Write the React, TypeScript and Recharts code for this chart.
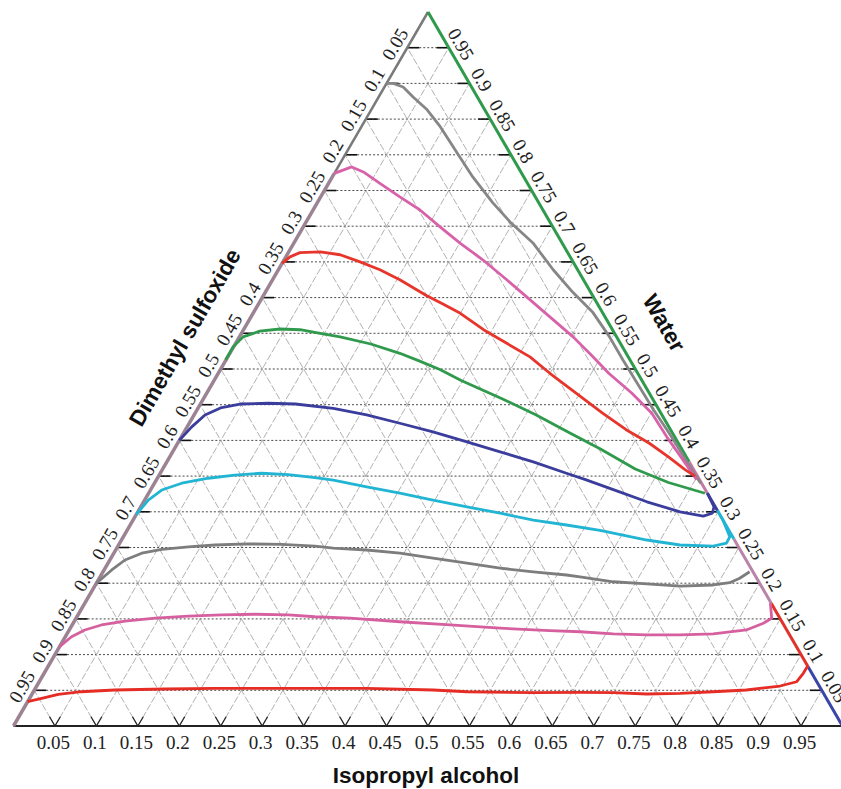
import React from "react";
import { ComposedChart, Line, Scatter, XAxis, YAxis, ReferenceLine } from "recharts";

// Grid / tick values (fractions along the axes)
const TICKS = [0.05, 0.1, 0.15, 0.2, 0.25, 0.3, 0.35, 0.4, 0.45, 0.5, 0.55, 0.6, 0.65, 0.7, 0.75, 0.8, 0.85, 0.9, 0.95];
const TICK_LABELS = ["0.05", "0.1", "0.15", "0.2", "0.25", "0.3", "0.35", "0.4", "0.45", "0.5", "0.55", "0.6", "0.65", "0.7", "0.75", "0.8", "0.85", "0.9", "0.95"];
const AXIS_TITLES = ["Dimethyl sulfoxide", "Water", "Isopropyl alcohol"];

// Curves: [horizontal fraction, height fraction]
const grayTop: [number, number][] = [[0.450,0.900],[0.458,0.900],[0.470,0.895],[0.482,0.881],[0.499,0.863],[0.515,0.839],[0.535,0.803],[0.554,0.769],[0.578,0.733],[0.599,0.706],[0.627,0.676],[0.651,0.639],[0.675,0.607],[0.699,0.579],[0.719,0.545],[0.735,0.513],[0.755,0.475],[0.772,0.443],[0.791,0.410],[0.806,0.382],[0.820,0.355],[0.829,0.340]];
const pinkTop: [number, number][] = [[0.387,0.774],[0.408,0.783],[0.422,0.776],[0.442,0.760],[0.466,0.741],[0.490,0.723],[0.5145,0.699],[0.539,0.676],[0.566,0.653],[0.595,0.625],[0.619,0.601],[0.647,0.573],[0.675,0.545],[0.699,0.517],[0.718,0.494],[0.746,0.466],[0.770,0.438],[0.788,0.405],[0.808,0.372],[0.824,0.345]];
const redTop: [number, number][] = [[0.324,0.648],[0.3335,0.657],[0.3456,0.663],[0.370,0.664],[0.394,0.660],[0.418,0.650],[0.442,0.639],[0.466,0.625],[0.498,0.603],[0.518,0.591],[0.539,0.578],[0.567,0.555],[0.595,0.536],[0.623,0.517],[0.647,0.494],[0.679,0.466],[0.711,0.438],[0.739,0.415],[0.767,0.396],[0.790,0.377],[0.810,0.359],[0.822,0.350]];
const greenMid: [number, number][] = [[0.256,0.513],[0.265,0.531],[0.277,0.545],[0.297,0.553],[0.3215,0.556],[0.3456,0.555],[0.370,0.550],[0.394,0.545],[0.431,0.535],[0.466,0.522],[0.490,0.511],[0.515,0.499],[0.540,0.484],[0.565,0.471],[0.590,0.458],[0.630,0.436],[0.670,0.411],[0.708,0.388],[0.750,0.360],[0.790,0.341],[0.834,0.326]];
const blueMid: [number, number][] = [[0.200,0.400],[0.215,0.419],[0.231,0.4356],[0.251,0.446],[0.275,0.451],[0.307,0.452],[0.340,0.451],[0.3858,0.445],[0.426,0.4356],[0.466,0.424],[0.506,0.412],[0.547,0.398],[0.587,0.384],[0.627,0.370],[0.667,0.354],[0.690,0.345],[0.7235,0.331],[0.764,0.314],[0.804,0.300],[0.832,0.294],[0.843,0.298],[0.845,0.307],[0.837,0.326]];
const cyanMid: [number, number][] = [[0.148,0.296],[0.1626,0.3165],[0.1788,0.3305],[0.203,0.340],[0.235,0.347],[0.267,0.3515],[0.2994,0.354],[0.3315,0.352],[0.3637,0.348],[0.3858,0.3445],[0.426,0.335],[0.466,0.326],[0.506,0.3165],[0.547,0.307],[0.587,0.298],[0.627,0.2885],[0.667,0.2815],[0.7075,0.274],[0.7235,0.270],[0.764,0.2605],[0.804,0.2535],[0.844,0.252],[0.860,0.256],[0.864,0.265],[0.856,0.288],[0.849,0.302]];
const grayLow: [number, number][] = [[0.100,0.200],[0.1185,0.2185],[0.1345,0.2325],[0.1547,0.242],[0.1788,0.2475],[0.211,0.251],[0.243,0.2535],[0.283,0.255],[0.3235,0.2545],[0.3637,0.252],[0.3858,0.249],[0.426,0.2465],[0.466,0.242],[0.506,0.235],[0.547,0.228],[0.587,0.221],[0.627,0.216],[0.667,0.2115],[0.6834,0.209],[0.7235,0.202],[0.764,0.199],[0.804,0.196],[0.844,0.1975],[0.864,0.2007],[0.876,0.207],[0.888,0.216]];
const pinkLow: [number, number][] = [[0.0555,0.111],[0.070,0.125],[0.086,0.1345],[0.106,0.1415],[0.1345,0.147],[0.171,0.151],[0.211,0.154],[0.251,0.1555],[0.291,0.1565],[0.3315,0.1555],[0.3637,0.153],[0.406,0.151],[0.466,0.146],[0.5265,0.1415],[0.587,0.137],[0.647,0.1335],[0.6834,0.132],[0.7235,0.129],[0.764,0.1275],[0.804,0.1275],[0.844,0.129],[0.884,0.1345],[0.9045,0.144],[0.9146,0.151],[0.913,0.172]];
const redLow: [number, number][] = [[0.017,0.034],[0.034,0.0388],[0.054,0.0444],[0.082,0.048],[0.122,0.0504],[0.183,0.0518],[0.243,0.0528],[0.303,0.0528],[0.364,0.0528],[0.426,0.0528],[0.506,0.0504],[0.547,0.048],[0.627,0.0467],[0.683,0.047],[0.7235,0.0467],[0.764,0.0448],[0.804,0.0458],[0.844,0.048],[0.884,0.0504],[0.9246,0.056],[0.9448,0.062],[0.9527,0.0738],[0.958,0.084]];

// Edge colour break heights
const RIGHT_EDGE_BREAKS = [1, 0.37, 0.326, 0.3, 0.262, 0.172, 0.083, 0];
const LEFT_EDGE_BREAKS = [0, 0.774, 1];

// Styles
const CURVES = [
  { data: grayTop, color: "#868686" },
  { data: pinkTop, color: "#d862aa" },
  { data: redTop, color: "#e8352b" },
  { data: greenMid, color: "#2f9a4c" },
  { data: blueMid, color: "#3a3d9c" },
  { data: cyanMid, color: "#22b5d3" },
  { data: grayLow, color: "#7d7d7d" },
  { data: pinkLow, color: "#d6609f" },
  { data: redLow, color: "#e52c25" },
];
const RIGHT_EDGE_COLORS = ["#2f9a4c", "#c27aa5", "#3a3d9c", "#22b5d3", "#b884a8", "#e0312a", "#3a45a8"];
const LEFT_EDGE_COLORS = ["#9c8394", "#7a7a7a"];

const W = 844;
const H = 789;
const X_DOMAIN: [number, number] = [-13.5 / 829, (W - 13.5) / 829];
const Y_DOMAIN: [number, number] = [(726 - H) / 714, 726 / 714];
const TICK_LEN = 0.0145;
const V_LEN = 0.013;
const LABEL_SIZE = 19;

const pts = (arr: [number, number][]) => arr.map(([x, y]) => ({ x, y }));

const bottomLabelData = TICKS.map((a, i) => ({ x: a, y: 0, label: TICK_LABELS[i] }));
const leftLabelData = TICKS.map((b, i) => ({ x: b / 2, y: b, label: TICK_LABELS[TICK_LABELS.length - 1 - i] }));
const rightLabelData = TICKS.map((b, i) => ({ x: 1 - b / 2, y: b, label: TICK_LABELS[i] }));
const titleData = [
  { x: 0.2069, y: 0.5441, label: AXIS_TITLES[0], angle: -60 },
  { x: 0.7847, y: 0.5644, label: AXIS_TITLES[1], angle: 60 },
  { x: 0.4976, y: -0.07, label: AXIS_TITLES[2], angle: 0 },
];

const serif = "'Liberation Serif', 'Times New Roman', serif";
const sans = "'Liberation Sans', Arial, sans-serif";

const BottomLabel = (p: any) => (
  <text x={p.cx - 1.5} y={p.cy + 16} textAnchor="middle" dominantBaseline="central" fontFamily={serif} fontSize={LABEL_SIZE} fill="#222">
    {p.payload.label}
  </text>
);
const LeftLabel = (p: any) => {
  const X = p.cx - 0.866 * 12.5 - 0.5 * 3;
  const Y = p.cy - 0.5 * 12.5 + 0.866 * 3;
  return (
    <text x={X} y={Y} textAnchor="middle" dominantBaseline="central" fontFamily={serif} fontSize={LABEL_SIZE} fill="#222" transform={`rotate(-60 ${X} ${Y})`}>
      {p.payload.label}
    </text>
  );
};
const RightLabel = (p: any) => {
  const X = p.cx + 0.866 * 12.5 + 0.5 * 3;
  const Y = p.cy - 0.5 * 12.5 + 0.866 * 3;
  return (
    <text x={X} y={Y} textAnchor="middle" dominantBaseline="central" fontFamily={serif} fontSize={LABEL_SIZE} fill="#222" transform={`rotate(60 ${X} ${Y})`}>
      {p.payload.label}
    </text>
  );
};
const TitleLabel = (p: any) => (
  <text x={p.cx} y={p.cy} textAnchor="middle" dominantBaseline="central" fontFamily={sans} fontWeight="bold" fontSize={22.5} fill="#111" transform={`rotate(${p.payload.angle} ${p.cx} ${p.cy})`}>
    {p.payload.label}
  </text>
);

export default function App() {
  const grid: React.ReactNode[] = [];
  TICKS.forEach((a, i) => {
    // lines parallel to the right edge
    grid.push(<ReferenceLine key={`d1-${i}`} segment={[{ x: a, y: 0 }, { x: a / 2, y: a }]} stroke="#a8a8a8" strokeWidth={0.9} strokeDasharray="7 2" ifOverflow="visible" />);
    // lines parallel to the left edge
    grid.push(<ReferenceLine key={`d2-${i}`} segment={[{ x: a, y: 0 }, { x: (1 + a) / 2, y: 1 - a }]} stroke="#a8a8a8" strokeWidth={0.9} strokeDasharray="7 2" ifOverflow="visible" />);
    // horizontal lines
    grid.push(<ReferenceLine key={`h-${i}`} segment={[{ x: a / 2, y: a }, { x: 1 - a / 2, y: a }]} stroke="#4a4a4a" strokeWidth={1} strokeDasharray="2 2" ifOverflow="visible" />);
    grid.push(<ReferenceLine key={`hl-${i}`} segment={[{ x: a / 2, y: a }, { x: a / 2 + TICK_LEN, y: a }]} stroke="#111" strokeWidth={1.6} ifOverflow="visible" />);
    grid.push(<ReferenceLine key={`hr-${i}`} segment={[{ x: 1 - a / 2 - TICK_LEN, y: a }, { x: 1 - a / 2, y: a }]} stroke="#111" strokeWidth={1.6} ifOverflow="visible" />);
    // V ticks at the base
    grid.push(<ReferenceLine key={`v1-${i}`} segment={[{ x: a, y: 0 }, { x: a - V_LEN / 2, y: V_LEN }]} stroke="#222" strokeWidth={1.3} ifOverflow="visible" />);
    grid.push(<ReferenceLine key={`v2-${i}`} segment={[{ x: a, y: 0 }, { x: a + V_LEN / 2, y: V_LEN }]} stroke="#222" strokeWidth={1.3} ifOverflow="visible" />);
  });

  const rightEdges = RIGHT_EDGE_COLORS.map((c, i) => {
    const b0 = RIGHT_EDGE_BREAKS[i];
    const b1 = RIGHT_EDGE_BREAKS[i + 1];
    return (
      <Line key={`re-${i}`} data={[{ x: 1 - b0 / 2, y: b0 }, { x: 1 - b1 / 2, y: b1 }]} dataKey="y" type="linear" stroke={c} strokeWidth={3} dot={false} activeDot={false} isAnimationActive={false} />
    );
  });
  const leftEdges = LEFT_EDGE_COLORS.map((c, i) => {
    const b0 = LEFT_EDGE_BREAKS[i];
    const b1 = LEFT_EDGE_BREAKS[i + 1];
    return (
      <Line key={`le-${i}`} data={[{ x: b0 / 2, y: b0 }, { x: b1 / 2, y: b1 }]} dataKey="y" type="linear" stroke={c} strokeWidth={i === 0 ? 3.5 : 2.5} dot={false} activeDot={false} isAnimationActive={false} />
    );
  });

  return (
    <div style={{ width: 841, height: 789, overflow: "hidden", background: "#fff" }}>
      <style>{"html,body{margin:0;padding:0;overflow:hidden;background:#fff}"}</style>
      <ComposedChart width={W} height={H} margin={{ top: 0, right: 0, bottom: 0, left: 0 }}>
        <XAxis type="number" dataKey="x" domain={X_DOMAIN} allowDataOverflow hide />
        <YAxis type="number" dataKey="y" domain={Y_DOMAIN} allowDataOverflow hide />
        {grid}
        <Line data={[{ x: 0, y: 0 }, { x: 1, y: 0 }]} dataKey="y" type="linear" stroke="#222" strokeWidth={2} dot={false} activeDot={false} isAnimationActive={false} />
        {leftEdges}
        {rightEdges}
        {CURVES.map((c, i) => (
          <Line key={`c-${i}`} data={pts(c.data)} dataKey="y" type="linear" stroke={c.color} strokeWidth={2.8} strokeLinejoin="round" dot={false} activeDot={false} isAnimationActive={false} />
        ))}
        <Scatter data={bottomLabelData} shape={BottomLabel} isAnimationActive={false} />
        <Scatter data={leftLabelData} shape={LeftLabel} isAnimationActive={false} />
        <Scatter data={rightLabelData} shape={RightLabel} isAnimationActive={false} />
        <Scatter data={titleData} shape={TitleLabel} isAnimationActive={false} />
      </ComposedChart>
    </div>
  );
}
